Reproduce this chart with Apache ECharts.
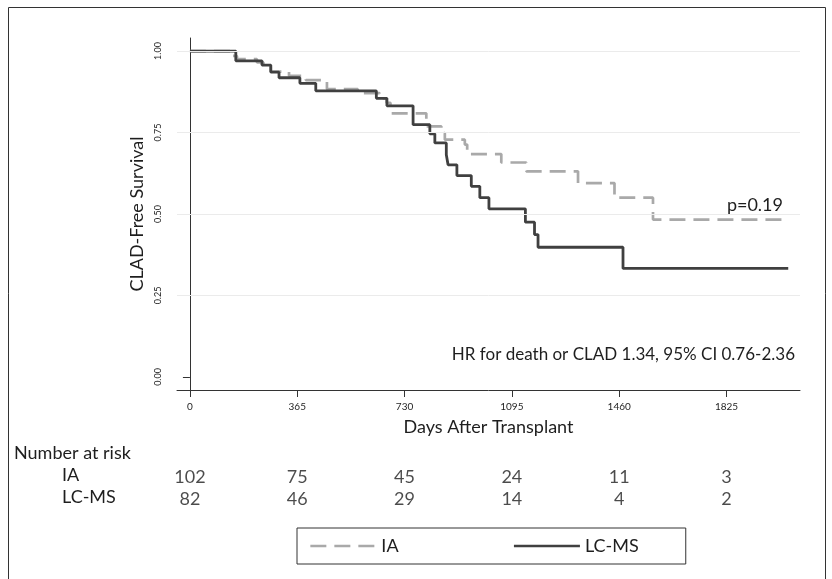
<!DOCTYPE html>
<html>
<head>
<meta charset="utf-8">
<script src="https://cdn.jsdelivr.net/npm/echarts@6/dist/echarts.min.js"></script>
<style>
html,body{margin:0;padding:0;background:#fff;}
#chart{width:832px;height:579px;}
</style>
</head>
<body>
<div id="chart"></div>
<script>
// ---- data ----
const iaDays   = [0, 136, 160, 228, 250, 275, 337, 394, 466, 571, 645, 669, 682, 804, 855, 867, 935, 943, 1059, 1144, 1320, 1444, 1575, 2035];
const iaSurv   = [1.0, 0.985, 0.975, 0.965, 0.952, 0.937, 0.924, 0.911, 0.883, 0.871, 0.855, 0.841, 0.809, 0.769, 0.748, 0.728, 0.713, 0.684, 0.658, 0.631, 0.595, 0.550, 0.483, 0.483];
const lcmsDays = [0, 156, 245, 275, 303, 374, 428, 634, 670, 759, 816, 833, 872, 878, 908, 957, 986, 1017, 1141, 1172, 1184, 1473, 2035];
const lcmsSurv = [1.0, 0.970, 0.957, 0.935, 0.918, 0.901, 0.878, 0.855, 0.832, 0.774, 0.746, 0.718, 0.682, 0.651, 0.618, 0.585, 0.550, 0.516, 0.475, 0.437, 0.398, 0.333, 0.333];
const xTicks = [0, 365, 730, 1095, 1460, 1825];
const yTicks = [0, 0.25, 0.5, 0.75, 1.0];
const riskIA   = [102, 75, 45, 24, 11, 3];
const riskLCMS = [82, 46, 29, 14, 4, 2];
const groups = ['IA', 'LC-MS'];

const FONT = 'Lato, "Noto Sans", sans-serif';
const TICKFONT = '"Liberation Sans Narrow", Lato, sans-serif';
const TXT = '#1e1e1e';
const DARK = '#404040';
const GRAY = '#a9a9a9';

const chart = echarts.init(document.getElementById('chart'), null, {renderer: 'canvas'});

const zip = (a, b) => a.map((v, i) => [v, b[i]]);
const riskData = [];
xTicks.forEach((d, i) => { riskData.push([d, 'IA', riskIA[i]]); riskData.push([d, 'LC-MS', riskLCMS[i]]); });

const option = {
  backgroundColor: '#fff',
  animation: false,
  textStyle: {fontFamily: FONT, color: TXT},
  grid: [
    {left: 177, right: 32, top: 38, bottom: 189, containLabel: false},
    {left: 177, right: 32, top: 466, height: 44}
  ],
  xAxis: [
    {
      type: 'value', gridIndex: 0, min: -44, max: 2075,
      name: 'Days After Transplant', nameLocation: 'middle', nameGap: 28,
      nameTextStyle: {fontSize: 18, color: TXT, fontFamily: FONT},
      axisLine: {show: true, onZero: false, lineStyle: {color: '#333', width: 1}},
      axisTick: {show: true, customValues: xTicks, length: 7, lineStyle: {color: '#333'}},
      axisLabel: {show: true, customValues: xTicks, fontSize: 10, color: TXT, margin: 12,
                  fontFamily: TICKFONT, formatter: v => String(v)},
      splitLine: {show: false}
    },
    {type: 'value', gridIndex: 1, min: -44, max: 2075, show: false}
  ],
  yAxis: [
    {
      type: 'value', gridIndex: 0, min: -0.04, max: 1.04,
      name: 'CLAD-Free Survival', nameLocation: 'middle', nameGap: 31, nameRotate: 90,
      nameTextStyle: {fontSize: 18, color: TXT, fontFamily: FONT},
      axisLine: {show: true, lineStyle: {color: '#333', width: 1}},
      axisTick: {show: true, customValues: yTicks, length: 7, lineStyle: {color: '#333'}},
      axisLabel: {show: true, customValues: yTicks, rotate: 90, fontSize: 9, color: TXT, margin: 14,
                  fontFamily: TICKFONT, formatter: v => v.toFixed(2)},
      splitLine: {show: false}
    },
    {type: 'category', gridIndex: 1, data: groups, inverse: true, show: false}
  ],
  legend: {
    left: 297, top: 528,
    orient: 'horizontal',
    data: ['IA', 'LC-MS'],
    itemWidth: 66, itemHeight: 14, itemGap: 114,
    padding: [9, 47, 9, 12],
    borderColor: '#333', borderWidth: 1,
    itemStyle: {opacity: 0},
    lineStyle: {width: 2.7},
    textStyle: {fontSize: 18, color: TXT, fontFamily: FONT},
    selectedMode: false
  },
  series: [
    {
      name: 'IA', type: 'line', xAxisIndex: 0, yAxisIndex: 0,
      step: 'end', symbol: 'none', z: 2,
      data: zip(iaDays, iaSurv),
      lineStyle: {color: GRAY, width: 2.7, type: [16, 8]},
      itemStyle: {color: GRAY},
      markLine: {
        silent: true, symbol: ['none', 'none'], label: {show: false},
        lineStyle: {color: '#ebebeb', type: 'solid', width: 1},
        data: [{yAxis: 0.25}, {yAxis: 0.5}, {yAxis: 0.75}, {yAxis: 1.0}]
      }
    },
    {
      name: 'LC-MS', type: 'line', xAxisIndex: 0, yAxisIndex: 0,
      step: 'end', symbol: 'none', z: 3,
      data: zip(lcmsDays, lcmsSurv),
      lineStyle: {color: DARK, width: 2.8, type: 'solid'},
      itemStyle: {color: DARK}
    },
    {
      name: 'risk', type: 'scatter', xAxisIndex: 1, yAxisIndex: 1,
      symbolSize: 1, itemStyle: {color: 'rgba(0,0,0,0)'},
      data: riskData,
      label: {show: true, position: 'inside', formatter: p => String(p.value[2]),
              fontSize: 18, color: TXT, fontFamily: FONT},
      silent: true
    }
  ],
  graphic: [
    {type: 'rect', silent: true, z: -1, shape: {x: 8.5, y: 7.5, width: 817, height: 600},
     style: {fill: 'none', stroke: '#333', lineWidth: 1}},
    {type: 'text', left: 14, top: 444, style: {text: 'Number at risk', fontSize: 18, fill: TXT, fontFamily: FONT}},
    {type: 'text', left: 62, top: 466, style: {text: 'IA', fontSize: 18, fill: TXT, fontFamily: FONT}},
    {type: 'text', left: 62, top: 488, style: {text: 'LC-MS', fontSize: 18, fill: TXT, fontFamily: FONT}},
    {type: 'text', right: 49, top: 196, style: {text: 'p=0.19', fontSize: 18, fill: TXT, fontFamily: FONT}},
    {type: 'text', right: 37, top: 346, style: {text: 'HR for death or CLAD 1.34, 95% CI 0.76-2.36', fontSize: 17, fill: TXT, fontFamily: FONT}}
  ]
};
chart.setOption(option);
</script>
</body>
</html>
